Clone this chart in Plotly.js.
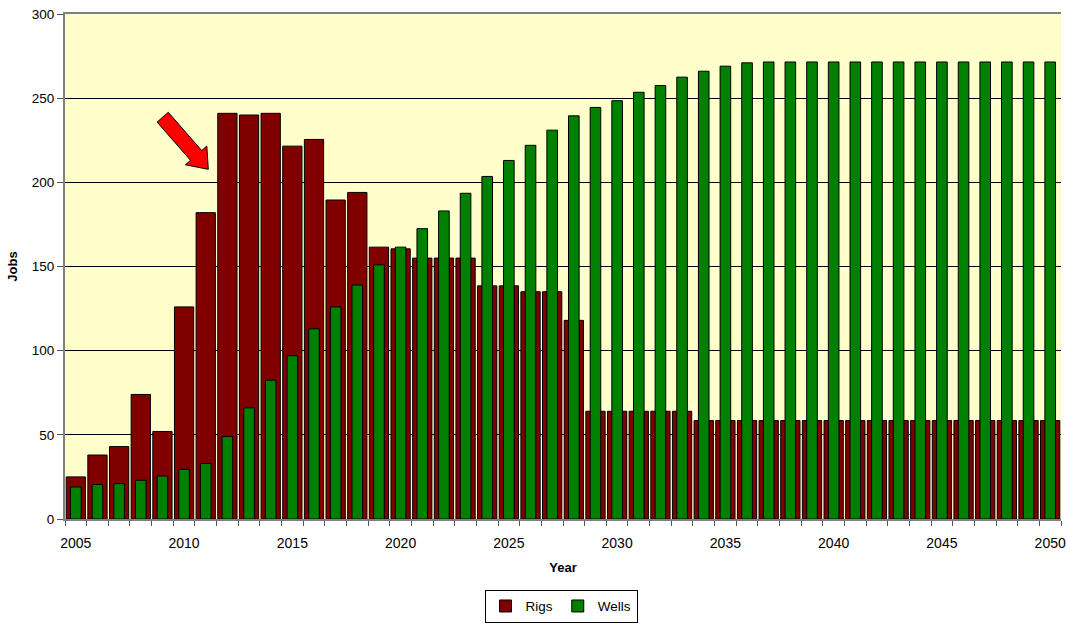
<!DOCTYPE html>
<html>
<head>
<meta charset="utf-8">
<script src="https://cdn.plot.ly/plotly-3.0.1.min.js"></script>
<style>html,body{margin:0;padding:0;background:#fff}#chart{width:1067px;height:627px}</style>
</head>
<body>
<div id="chart"></div>
<script>
var years = [2005,2006,2007,2008,2009,2010,2011,2012,2013,2014,2015,2016,2017,2018,2019,2020,2021,2022,2023,2024,2025,2026,2027,2028,2029,2030,2031,2032,2033,2034,2035,2036,2037,2038,2039,2040,2041,2042,2043,2044,2045,2046,2047,2048,2049,2050];
var rigs = [25,38,43,74,52,126,182,241,240,241,221.5,225.5,189.5,194,161.5,160.5,155,155,155,138.5,138.5,135,135,118,64,64,64,64,64,58.5,58.5,58.5,58.5,58.5,58.5,58.5,58.5,58.5,58.5,58.5,58.5,58.5,58.5,58.5,58.5,58.5];
var wells = [19,20.5,21,23,25.5,29.5,33,49,66,82.5,97,113,126,139,151,161.5,172.5,183,193.5,203.5,213,222,231,239.5,244.5,248.5,253.5,257.5,262.5,266,269,271,271.5,271.5,271.5,271.5,271.5,271.5,271.5,271.5,271.5,271.5,271.5,271.5,271.5,271.5];
var yearLabels = ['2005','2010','2015','2020','2025','2030','2035','2040','2045','2050'];
var yearLabelVals = [2005,2010,2015,2020,2025,2030,2035,2040,2045,2050];

var font = 'Liberation Sans, Arial, sans-serif';

var traces = [
  {type:'bar', name:'Rigs', x:years, y:rigs, width:0.89, opacity:1,
   marker:{color:'#800000', line:{color:'#000000', width:1}}},
  {type:'bar', name:'Wells', x:years, y:wells, width:0.49, opacity:1,
   marker:{color:'#008000', line:{color:'#000000', width:1}}}
];

var layout = {
  width:1067, height:627,
  margin:{l:65, r:6, t:14, b:108, autoexpand:false},
  paper_bgcolor:'#ffffff',
  plot_bgcolor:'#FFFFCC',
  barmode:'overlay',
  bargap:0,
  font:{family:font, size:13, color:'#000'},
  showlegend:true,
  legend:{orientation:'h', x:0.498, xanchor:'center', y:-0.14, yanchor:'top',
          bordercolor:'#000', borderwidth:1, bgcolor:'#fff',
          font:{family:font, size:13.5, color:'#000'}, itemwidth:30, traceorder:'normal',
          tracegroupgap:0},
  xaxis:{
    range:[2004.5, 2050.5], tickmode:'array', tickvals:yearLabelVals, ticktext:yearLabels,
    ticks:'', ticklabelstandoff:10, showgrid:false, zeroline:false,
    showline:true, linecolor:'#808080', linewidth:2, mirror:true,
    minor:{tick0:2004.5, dtick:1, ticks:'outside', ticklen:5, tickcolor:'#555', tickwidth:1, showgrid:false},
    tickfont:{family:font, size:14, color:'#000'},
    title:{text:'<b>Year</b>', font:{family:font, size:13, color:'#000'}, standoff:13}
  },
  yaxis:{
    range:[0,300], dtick:50, tick0:0, ticks:'outside', ticklen:6, tickcolor:'#555', tickwidth:1,
    showgrid:true, gridcolor:'#000000', gridwidth:1, zeroline:false,
    showline:true, linecolor:'#808080', linewidth:2,
    tickfont:{family:font, size:13.5, color:'#000'},
    title:{text:'<b>Jobs</b>', font:{family:font, size:13, color:'#000'}, standoff:11}
  },
  yaxis2:{
    overlaying:'y', side:'right', range:[0,9], dtick:1, tick0:0,
    ticks:'outside', ticklen:6, tickcolor:'#555', tickwidth:1,
    showticklabels:false, showgrid:false, zeroline:false,
    showline:true, linecolor:'#606060', linewidth:2
  },
  shapes:[
    {type:'path', xref:'paper', yref:'paper',
     path:'M 0.09247 0.78594 L 0.10371 0.80535 L 0.13725 0.72970 L 0.14237 0.73861 L 0.14388 0.69248 L 0.12088 0.70139 L 0.12600 0.71030 Z',
     fillcolor:'#FF0000', line:{color:'#000000', width:1}, layer:'above'}
  ]
};

Plotly.newPlot('chart', traces, layout, {staticPlot:true, displayModeBar:false});
</script>
</body>
</html>
